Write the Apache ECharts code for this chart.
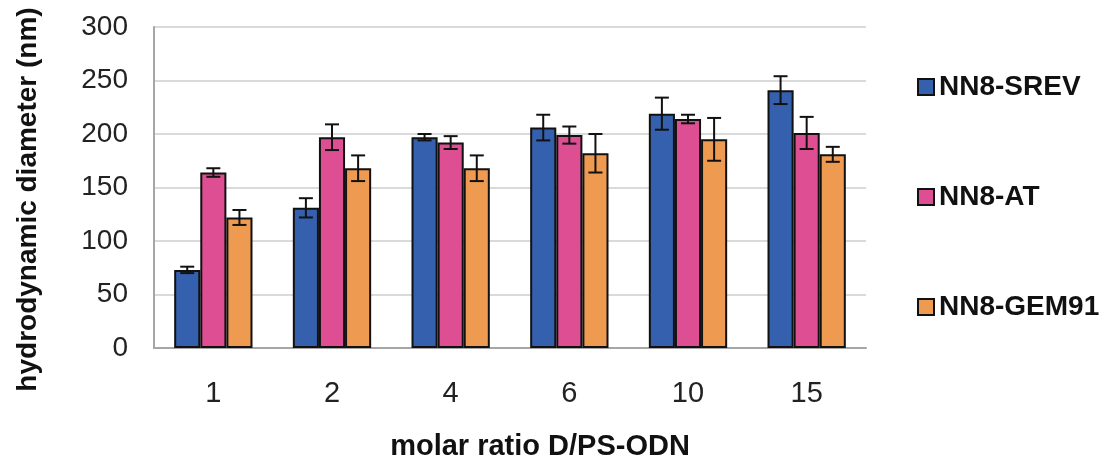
<!DOCTYPE html>
<html>
<head>
<meta charset="utf-8">
<script src="https://cdn.jsdelivr.net/npm/echarts@6/dist/echarts.min.js"></script>
<style>
  html, body { margin: 0; padding: 0; background: #fff; }
  #chart { width: 1104px; height: 460px; }
</style>
</head>
<body>
<div id="chart"></div>
<script>
// Molar ratios on the x axis
const ratios = ['1', '2', '4', '6', '10', '15'];

// Mean hydrodynamic diameter (nm) per dendrimer
const srevMean = [73, 131, 197, 206, 219, 241];
const atMean = [164, 197, 192, 199, 214, 201];
const gem91Mean = [122, 168, 168, 182, 195, 181];

// Standard deviations (nm)
const srevErr = [3, 9, 3, 12, 15, 13];
const atErr = [4, 12, 6, 8, 4, 15];
const gem91Err = [7, 12, 12, 18, 20, 7];

const seriesNames = ['NN8-SREV', 'NN8-AT', 'NN8-GEM91'];
const colors = ['#3560ad', '#dd4e92', '#ee9a50'];

const FONT = '"Liberation Sans", Arial, sans-serif';
const BAR_FRACTION = 0.22;

const means = [srevMean, atMean, gem91Mean];
const errs = [srevErr, atErr, gem91Err];

const barSeries = seriesNames.map((name, i) => ({
  name: name,
  type: 'bar',
  barWidth: (BAR_FRACTION * 100) + '%',
  barGap: '0%',
  data: means[i],
  itemStyle: { color: colors[i], borderColor: '#111', borderWidth: 2 },
  z: 2
}));

// Whisker for each bar: vertical line with caps, placed at the bar's offset
const errorSeries = seriesNames.map((name, i) => ({
  type: 'custom',
  name: name + ' err',
  z: 5,
  silent: true,
  encode: { x: 0, y: [1, 2] },
  data: means[i].map((m, k) => [k, m - errs[i][k], m + errs[i][k]]),
  renderItem: function (params, api) {
    const band = api.size([1, 0])[0];
    const offset = (i - 1) * band * BAR_FRACTION;
    const lo = api.coord([api.value(0), api.value(1)]);
    const hi = api.coord([api.value(0), api.value(2)]);
    const x = lo[0] + offset;
    const cap = 7;
    const style = { stroke: '#111', lineWidth: 2 };
    return {
      type: 'group',
      children: [
        { type: 'line', shape: { x1: x, y1: hi[1], x2: x, y2: lo[1] }, style: style },
        { type: 'line', shape: { x1: x - cap, y1: hi[1], x2: x + cap, y2: hi[1] }, style: style },
        { type: 'line', shape: { x1: x - cap, y1: lo[1], x2: x + cap, y2: lo[1] }, style: style }
      ]
    };
  }
}));

const chart = echarts.init(document.getElementById('chart'), null, { renderer: 'canvas' });
chart.setOption({
  animation: false,
  backgroundColor: '#ffffff',
  grid: { left: 154, right: 238, top: 27, bottom: 112, containLabel: false, outerBoundsMode: 'none' },
  legend: {
    orient: 'vertical',
    left: 912,
    top: 68,
    itemWidth: 16,
    itemHeight: 16,
    itemGap: 82,
    icon: 'rect',
    data: seriesNames,
    textStyle: { fontFamily: FONT, fontSize: 28, fontWeight: 'bold', color: '#111' }
  },
  xAxis: {
    type: 'category',
    data: ratios,
    name: 'molar ratio D/PS-ODN',
    nameLocation: 'middle',
    nameGap: 84,
    nameTextStyle: { fontFamily: FONT, fontSize: 29, fontWeight: 'bold', color: '#111', padding: [0, 0, 0, 60] },
    axisLine: { lineStyle: { color: '#a6a6a6', width: 2 } },
    axisTick: { show: false },
    axisLabel: { fontFamily: FONT, fontSize: 29, color: '#222', margin: 31 }
  },
  yAxis: {
    type: 'value',
    min: 0,
    max: 300,
    interval: 50,
    name: 'hydrodynamic diameter (nm)',
    nameLocation: 'middle',
    nameGap: 112,
    nameTextStyle: { fontFamily: FONT, fontSize: 28, fontWeight: 'bold', color: '#111', padding: [0, 24, 0, 0] },
    axisLine: { show: true, lineStyle: { color: '#a6a6a6', width: 2 } },
    axisTick: { show: false },
    axisLabel: { fontFamily: FONT, fontSize: 28, color: '#222', margin: 26 },
    splitLine: { lineStyle: { color: '#dadada', width: 2 } }
  },
  series: barSeries.concat(errorSeries)
});
</script>
</body>
</html>
